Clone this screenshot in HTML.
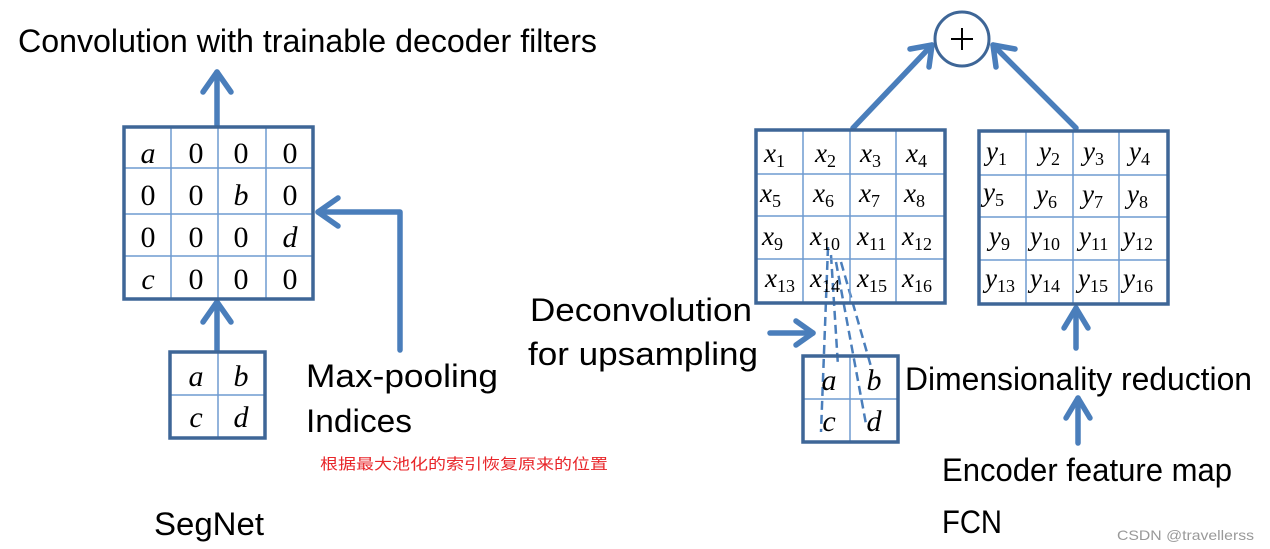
<!DOCTYPE html>
<html><head><meta charset="utf-8"><style>html,body{margin:0;padding:0;background:#fff}svg{display:block}</style></head><body>
<svg width="1270" height="549" viewBox="0 0 1270 549" xmlns="http://www.w3.org/2000/svg">
<g font-family="Liberation Sans, sans-serif" fill="#000">
<text x="18" y="52" font-size="32" textLength="579" lengthAdjust="spacingAndGlyphs">Convolution with trainable decoder filters</text>
<text x="306" y="387" font-size="32" textLength="192" lengthAdjust="spacingAndGlyphs">Max-pooling</text>
<text x="306" y="432" font-size="32" textLength="106" lengthAdjust="spacingAndGlyphs">Indices</text>
<text x="154" y="535" font-size="32" textLength="110" lengthAdjust="spacingAndGlyphs">SegNet</text>
<text x="530" y="321" font-size="32" textLength="222" lengthAdjust="spacingAndGlyphs">Deconvolution</text>
<text x="528" y="365" font-size="32" textLength="230" lengthAdjust="spacingAndGlyphs">for upsampling</text>
<text x="905" y="390" font-size="32" textLength="347" lengthAdjust="spacingAndGlyphs">Dimensionality reduction</text>
<text x="942" y="481" font-size="32" textLength="290" lengthAdjust="spacingAndGlyphs">Encoder feature map</text>
<text x="942" y="533" font-size="32" textLength="60" lengthAdjust="spacingAndGlyphs">FCN</text>
<text x="1117" y="540" font-size="14" fill="#999" textLength="137" lengthAdjust="spacingAndGlyphs">CSDN @travellerss</text>
<text x="320" y="469" font-size="15" fill="#e8262a" font-family="Liberation Sans, Noto Sans CJK SC, sans-serif" textLength="288" lengthAdjust="spacingAndGlyphs">根据最大池化的索引恢复原来的位置</text>
</g>

<g stroke="#4a7ebb" stroke-width="5.5" fill="none" stroke-linecap="round" stroke-linejoin="round">
<line x1="217" y1="125" x2="217" y2="72"/><polyline points="203,92 217,72 231,92"/>
<line x1="217" y1="350" x2="217" y2="302"/><polyline points="203,322 217,302 231,322"/>
<polyline points="400,350 400,212 318,212"/><polyline points="338,198 318,212 338,226"/>
<line x1="853" y1="128" x2="932" y2="45"/><polyline points="910,49 932,45 929,67"/>
<line x1="1076" y1="128" x2="993" y2="45"/><polyline points="996,67 993,45 1015,49"/>
<line x1="1076" y1="348" x2="1076" y2="308"/><polyline points="1064,328 1076,308 1088,328"/>
<line x1="1078" y1="443" x2="1078" y2="398"/><polyline points="1066,418 1078,398 1090,418"/>
<line x1="770" y1="333" x2="813" y2="333"/><polyline points="796,321 813,333 796,345"/>
</g>
<g stroke="#4a7ebb" stroke-width="2.5" stroke-dasharray="9,5" fill="none">
<line x1="828" y1="247" x2="821" y2="432"/>
<line x1="831" y1="255" x2="838" y2="366"/>
<line x1="836" y1="262" x2="866" y2="424"/>
<line x1="841" y1="262" x2="872" y2="370"/>
</g>

<g stroke="#6f9bd1" stroke-width="1.5">
<line x1="171" y1="127" x2="171" y2="299"/><line x1="218" y1="127" x2="218" y2="299"/><line x1="266" y1="127" x2="266" y2="299"/>
<line x1="124" y1="168" x2="313" y2="168"/><line x1="124" y1="214" x2="313" y2="214"/><line x1="124" y1="256" x2="313" y2="256"/>
<line x1="218" y1="352" x2="218" y2="438"/><line x1="170" y1="395" x2="265" y2="395"/>
<line x1="803" y1="130" x2="803" y2="303"/><line x1="850" y1="130" x2="850" y2="303"/><line x1="896" y1="130" x2="896" y2="303"/>
<line x1="756" y1="174" x2="945" y2="174"/><line x1="756" y1="216" x2="945" y2="216"/><line x1="756" y1="259" x2="945" y2="259"/>
<line x1="1026" y1="131" x2="1026" y2="304"/><line x1="1073" y1="131" x2="1073" y2="304"/><line x1="1119" y1="131" x2="1119" y2="304"/>
<line x1="979" y1="175" x2="1168" y2="175"/><line x1="979" y1="217" x2="1168" y2="217"/><line x1="979" y1="260" x2="1168" y2="260"/>
<line x1="850" y1="356" x2="850" y2="442"/><line x1="803" y1="399" x2="898" y2="399"/>
</g>
<g stroke="#3e6697" stroke-width="3.5" fill="none">
<rect x="124" y="127" width="189" height="172"/>
<rect x="170" y="352" width="95" height="86"/>
<rect x="756" y="130" width="189" height="173"/>
<rect x="979" y="131" width="189" height="173"/>
<rect x="803" y="356" width="95" height="86"/>
<circle cx="962" cy="39" r="27" stroke-width="3"/>
</g>
<g stroke="#000" stroke-width="2"><line x1="951" y1="39" x2="973" y2="39"/><line x1="962" y1="28" x2="962" y2="50"/></g>

<g font-family="Liberation Serif, serif" font-size="30" text-anchor="middle">
<g font-style="italic"><text x="148" y="163">a</text><text x="241" y="205">b</text><text x="290" y="247">d</text><text x="148" y="289">c</text>
<text x="196" y="386">a</text><text x="241" y="386">b</text><text x="196" y="427">c</text><text x="241" y="427">d</text>
<text x="829" y="390">a</text><text x="874" y="390">b</text><text x="829" y="431">c</text><text x="874" y="431">d</text></g>
<text x="196" y="163">0</text><text x="241" y="163">0</text><text x="290" y="163">0</text>
<text x="148" y="205">0</text><text x="196" y="205">0</text><text x="290" y="205">0</text>
<text x="148" y="247">0</text><text x="196" y="247">0</text><text x="241" y="247">0</text>
<text x="196" y="289">0</text><text x="241" y="289">0</text><text x="290" y="289">0</text>
</g>
<g font-family="Liberation Serif, serif" font-size="27">
<text x="764" y="162"><tspan font-style="italic">x</tspan><tspan font-size="18" dy="5">1</tspan></text>
<text x="815" y="162"><tspan font-style="italic">x</tspan><tspan font-size="18" dy="5">2</tspan></text>
<text x="860" y="162"><tspan font-style="italic">x</tspan><tspan font-size="18" dy="5">3</tspan></text>
<text x="906" y="162"><tspan font-style="italic">x</tspan><tspan font-size="18" dy="5">4</tspan></text>
<text x="760" y="202"><tspan font-style="italic">x</tspan><tspan font-size="18" dy="5">5</tspan></text>
<text x="813" y="202"><tspan font-style="italic">x</tspan><tspan font-size="18" dy="5">6</tspan></text>
<text x="859" y="202"><tspan font-style="italic">x</tspan><tspan font-size="18" dy="5">7</tspan></text>
<text x="904" y="202"><tspan font-style="italic">x</tspan><tspan font-size="18" dy="5">8</tspan></text>
<text x="762" y="245"><tspan font-style="italic">x</tspan><tspan font-size="18" dy="5">9</tspan></text>
<text x="810" y="245"><tspan font-style="italic">x</tspan><tspan font-size="18" dy="5">10</tspan></text>
<text x="857" y="245"><tspan font-style="italic">x</tspan><tspan font-size="18" dy="5">11</tspan></text>
<text x="902" y="245"><tspan font-style="italic">x</tspan><tspan font-size="18" dy="5">12</tspan></text>
<text x="765" y="287"><tspan font-style="italic">x</tspan><tspan font-size="18" dy="5">13</tspan></text>
<text x="810" y="287"><tspan font-style="italic">x</tspan><tspan font-size="18" dy="5">14</tspan></text>
<text x="857" y="287"><tspan font-style="italic">x</tspan><tspan font-size="18" dy="5">15</tspan></text>
<text x="902" y="287"><tspan font-style="italic">x</tspan><tspan font-size="18" dy="5">16</tspan></text>
<text x="986" y="160"><tspan font-style="italic">y</tspan><tspan font-size="18" dy="5">1</tspan></text>
<text x="1039" y="160"><tspan font-style="italic">y</tspan><tspan font-size="18" dy="5">2</tspan></text>
<text x="1083" y="160"><tspan font-style="italic">y</tspan><tspan font-size="18" dy="5">3</tspan></text>
<text x="1129" y="160"><tspan font-style="italic">y</tspan><tspan font-size="18" dy="5">4</tspan></text>
<text x="983" y="201"><tspan font-style="italic">y</tspan><tspan font-size="18" dy="5">5</tspan></text>
<text x="1036" y="203"><tspan font-style="italic">y</tspan><tspan font-size="18" dy="5">6</tspan></text>
<text x="1082" y="203"><tspan font-style="italic">y</tspan><tspan font-size="18" dy="5">7</tspan></text>
<text x="1127" y="203"><tspan font-style="italic">y</tspan><tspan font-size="18" dy="5">8</tspan></text>
<text x="989" y="245"><tspan font-style="italic">y</tspan><tspan font-size="18" dy="5">9</tspan></text>
<text x="1030" y="245"><tspan font-style="italic">y</tspan><tspan font-size="18" dy="5">10</tspan></text>
<text x="1079" y="245"><tspan font-style="italic">y</tspan><tspan font-size="18" dy="5">11</tspan></text>
<text x="1123" y="245"><tspan font-style="italic">y</tspan><tspan font-size="18" dy="5">12</tspan></text>
<text x="985" y="287"><tspan font-style="italic">y</tspan><tspan font-size="18" dy="5">13</tspan></text>
<text x="1030" y="287"><tspan font-style="italic">y</tspan><tspan font-size="18" dy="5">14</tspan></text>
<text x="1078" y="287"><tspan font-style="italic">y</tspan><tspan font-size="18" dy="5">15</tspan></text>
<text x="1123" y="287"><tspan font-style="italic">y</tspan><tspan font-size="18" dy="5">16</tspan></text>
</g>
</svg>
</body></html>
